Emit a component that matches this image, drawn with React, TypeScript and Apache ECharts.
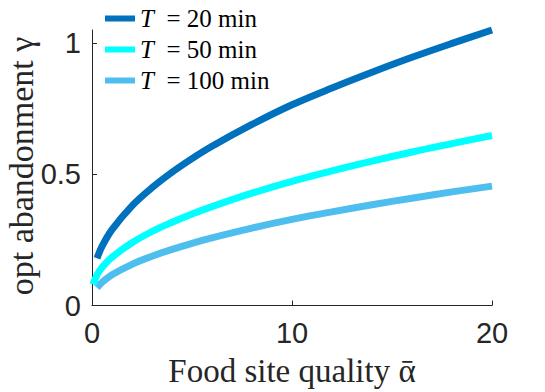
import React, { useEffect, useRef } from 'react';
import * as echarts from 'echarts';

const alpha = [0.05, 0.25, 0.5, 1, 2, 3, 4, 5, 6, 8, 10, 12, 14, 16, 18, 20];
const gammaT20 = [null, 0.18, 0.225, 0.289, 0.38, 0.449, 0.508, 0.56, 0.607, 0.69, 0.765, 0.829, 0.889, 0.946, 0.999, 1.05];
const gammaT50 = [0.08, 0.117, 0.145, 0.184, 0.239, 0.282, 0.317, 0.349, 0.377, 0.428, 0.473, 0.513, 0.55, 0.585, 0.617, 0.648];
const gammaT100 = [null, 0.068, 0.088, 0.117, 0.157, 0.188, 0.214, 0.237, 0.258, 0.295, 0.328, 0.357, 0.384, 0.409, 0.433, 0.455];
const seriesNames = ['T = 20 min', 'T = 50 min', 'T = 100 min'];
const seriesColors = ['#0072BD', '#00FFFF', '#4DBEEE'];
const xTicks = [0, 10, 20];
const yTicks = [0, 0.5, 1];
const xName = 'Food site quality ᾱ';
const yName = 'opt abandonment γ';

const SERIF = '"Liberation Serif", "DejaVu Serif", serif';
const SANS = '"Liberation Sans", Arial, sans-serif';

export default function App() {
  const ref = useRef<HTMLDivElement>(null);
  useEffect(() => {
    if (!ref.current) return;
    const chart = echarts.init(ref.current, null, { renderer: 'svg' });
    const allData = [gammaT20, gammaT50, gammaT100];
    const axisColor = '#262626';
    chart.setOption({
      animation: false,
      backgroundColor: '#ffffff',
      grid: { left: 92, right: 53, top: 30, bottom: 86.5, containLabel: false, outerBoundsMode: 'none' },
      legend: {
        orient: 'vertical',
        left: 100,
        top: 1,
        itemWidth: 30,
        itemHeight: 6,
        itemGap: 6,
        icon: 'rect',
        data: seriesNames,
        formatter: (name: string) => '{i|T}\u00a0' + name.slice(1).replace(/ /g, '\u00a0'),
        textStyle: {
          fontFamily: SERIF,
          fontSize: 25,
          color: '#000',
          rich: { i: { fontStyle: 'italic', fontFamily: SERIF, fontSize: 25 } },
        },
      },
      graphic: [
        {
          type: 'text',
          x: 292,
          y: 371,
          style: {
            text: xName,
            x: 0,
            y: 0,
            align: 'center',
            verticalAlign: 'middle',
            font: '33px "Liberation Serif", "DejaVu Serif", serif',
            fill: '#262626',
          },
        },
        {
          type: 'text',
          x: 21,
          y: 166,
          rotation: Math.PI / 2,
          style: {
            text: yName,
            x: 0,
            y: 0,
            align: 'center',
            verticalAlign: 'middle',
            font: '34px "Liberation Serif", "DejaVu Serif", serif',
            fill: '#262626',
          },
        },
      ],
      xAxis: {
        type: 'value',
        min: 0,
        max: 20,
        interval: 10,
        axisLine: { show: true, lineStyle: { color: axisColor, width: 1 } },
        axisTick: { show: true, inside: true, length: 5, lineStyle: { color: axisColor }, customValues: xTicks },
        axisLabel: { fontFamily: SANS, fontSize: 29, color: axisColor, margin: 13, customValues: xTicks },
        splitLine: { show: false },
      },
      yAxis: {
        type: 'value',
        min: 0,
        max: 1.05,
        interval: 0.5,
        axisLine: { show: true, lineStyle: { color: axisColor, width: 1 } },
        axisTick: { show: true, inside: true, length: 5, lineStyle: { color: axisColor }, customValues: yTicks },
        axisLabel: { fontFamily: SANS, fontSize: 29, color: axisColor, margin: 11, customValues: yTicks },
        splitLine: { show: false },
      },
      series: seriesNames.map((name, i) => ({
        name,
        type: 'line',
        data: alpha.map((a, j) => [a, allData[i][j]]),
        showSymbol: false,
        smooth: 0.35,
        connectNulls: false,
        color: seriesColors[i],
        lineStyle: { width: 7, color: seriesColors[i], cap: 'butt' },
        z: 3 - i,
      })),
    });
    return () => chart.dispose();
  }, []);
  return <div ref={ref} style={{ position: 'absolute', left: 0, top: 0, width: 545, height: 392 }} />;
}
